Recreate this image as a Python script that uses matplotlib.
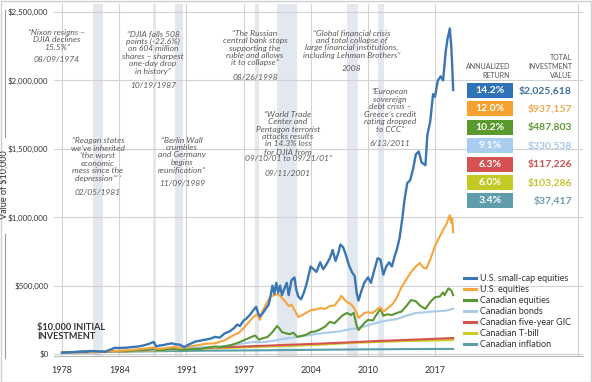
import matplotlib
matplotlib.use("Agg")
import matplotlib.pyplot as plt
from matplotlib.patches import Rectangle
from matplotlib.lines import Line2D

# ---------------- data ----------------
smallcap_years = [1978.0, 1979.0, 1980.0, 1980.5, 1981.0, 1981.5, 1982.0, 1982.5, 1983.0, 1983.5,
                  1984.0, 1984.5, 1985.0, 1985.5, 1986.0, 1986.5, 1987.0, 1987.6, 1987.85, 1988.2,
                  1988.6, 1989.0, 1989.5, 1989.8, 1990.3, 1990.8, 1991.2, 1991.6, 1992.0, 1992.5,
                  1993.0, 1993.5, 1994.0, 1994.5, 1995.0, 1995.5, 1996.0, 1996.3, 1996.6, 1997.0,
                  1997.3, 1997.7, 1998.0, 1998.3, 1998.5, 1998.7, 1999.0, 1999.3, 1999.6, 1999.8,
                  2000.0, 2000.2, 2000.4, 2000.6, 2000.8, 2001.0, 2001.2, 2001.5, 2001.7, 2002.0,
                  2002.3, 2002.5, 2002.7, 2003.0, 2003.3, 2003.6, 2004.0, 2004.3, 2004.6, 2005.0,
                  2005.3, 2005.6, 2006.0, 2006.3, 2006.6, 2006.9, 2007.1, 2007.4, 2007.7, 2008.0,
                  2008.3, 2008.6, 2008.8, 2009.0, 2009.3, 2009.6, 2010.0, 2010.3, 2010.6, 2011.0,
                  2011.3, 2011.6, 2011.9, 2012.2, 2012.5, 2012.8, 2013.0, 2013.3, 2013.6, 2013.8,
                  2014.1, 2014.4, 2014.7, 2015.0, 2015.3, 2015.6, 2016.0, 2016.2, 2016.5, 2016.8,
                  2017.0, 2017.3, 2017.6, 2017.85, 2018.1, 2018.3, 2018.55, 2018.7, 2018.8, 2018.9]
smallcap_vals = [10, 13, 17, 16, 22, 20, 18, 17, 30, 45,
                 44, 45, 48, 52, 55, 62, 72, 88, 55, 62,
                 65, 72, 78, 72, 68, 50, 68, 80, 92, 98,
                 105, 112, 125, 120, 150, 165, 190, 215, 205, 245,
                 260, 290, 320, 345, 300, 275, 300, 330, 360, 420,
                 500, 440, 520, 450, 500, 430, 470, 520, 430, 540,
                 560, 470, 420, 400, 450, 520, 640, 620, 600, 670,
                 620, 650, 700, 760, 680, 740, 800, 780, 720, 650,
                 600, 570, 450, 390, 460, 520, 560, 520, 600, 700,
                 690, 580, 640, 670, 640, 720, 760, 850, 1000, 1120,
                 1250, 1270, 1350, 1460, 1480, 1400, 1380, 1600, 1700, 1900,
                 1880, 2000, 2030, 2000, 2200, 2300, 2380, 2250, 2100, 1930]

us_years = [1978.0, 1980.0, 1981.0, 1982.0, 1982.6, 1983.0, 1984.0, 1985.0, 1986.0, 1987.0,
            1987.6, 1987.85, 1988.5, 1989.0, 1989.7, 1990.5, 1991.0, 1992.0, 1993.0, 1994.0,
            1995.0, 1996.0, 1996.5, 1997.0, 1997.5, 1998.0, 1998.4, 1998.7, 1999.0, 1999.5,
            1999.8, 2000.2, 2000.6, 2001.0, 2001.4, 2001.7, 2002.0, 2002.4, 2002.7, 2003.0,
            2003.5, 2004.0, 2004.5, 2005.0, 2005.5, 2006.0, 2006.5, 2007.0, 2007.2, 2007.5,
            2007.8, 2008.2, 2008.5, 2008.8, 2009.0, 2009.3, 2009.6, 2010.0, 2010.5, 2011.0,
            2011.3, 2011.6, 2012.0, 2012.5, 2013.0, 2013.3, 2013.6, 2014.0, 2014.5, 2015.0,
            2015.4, 2015.8, 2016.1, 2016.5, 2017.0, 2017.5, 2017.8, 2018.2, 2018.55, 2018.7,
            2018.8, 2018.9]
us_vals = [10, 13, 15, 14, 17, 22, 24, 28, 35, 42,
           48, 38, 40, 45, 52, 45, 52, 62, 75, 78,
           100, 140, 155, 190, 230, 270, 290, 250, 320, 385,
           420, 430, 440, 410, 380, 350, 360, 310, 270, 280,
           300, 320, 325, 335, 330, 350, 355, 400, 425, 400,
           380, 365, 340, 300, 265, 280, 300, 305, 300, 330,
           340, 310, 330, 360, 410, 460, 500, 545, 600, 640,
           665, 630, 625, 690, 790, 860, 900, 950, 1015, 960,
           990, 890]

caneq_years = [1978.0, 1979.0, 1980.0, 1980.8, 1981.5, 1982.5, 1983.0, 1983.5, 1984.5, 1985.5,
               1986.5, 1987.6, 1987.9, 1988.5, 1989.5, 1990.7, 1991.5, 1992.5, 1993.5, 1994.0,
               1994.5, 1995.0, 1995.5, 1996.0, 1996.5, 1997.0, 1997.5, 1997.8, 1998.2, 1998.6,
               1999.0, 1999.5, 2000.0, 2000.5, 2000.7, 2001.0, 2001.5, 2001.8, 2002.2, 2002.6,
               2002.9, 2003.5, 2004.0, 2004.5, 2005.0, 2005.5, 2006.0, 2006.5, 2007.0, 2007.4,
               2007.8, 2008.2, 2008.5, 2008.8, 2009.0, 2009.3, 2009.6, 2010.0, 2010.5, 2011.0,
               2011.3, 2011.6, 2012.0, 2012.5, 2013.0, 2013.5, 2014.0, 2014.5, 2015.0, 2015.5,
               2016.0, 2016.5, 2017.0, 2017.5, 2017.85, 2018.0, 2018.4, 2018.7, 2018.9]
caneq_vals = [10, 14, 18, 22, 19, 14, 19, 22, 20, 25,
              28, 36, 28, 30, 36, 30, 36, 38, 50, 55,
              52, 56, 62, 72, 85, 100, 115, 125, 135, 105,
              115, 125, 160, 205, 190, 160, 150, 145, 155, 125,
              130, 140, 160, 165, 180, 200, 235, 225, 260, 285,
              300, 285, 300, 210, 175, 200, 225, 250, 245, 300,
              330, 280, 290, 285, 300, 310, 350, 395, 385, 350,
              330, 380, 415, 420, 450, 430, 480, 465, 430]

bonds_years = [1978, 1980, 1981, 1982, 1983, 1985, 1987, 1989, 1990, 1991, 1993, 1994, 1995,
               1997, 1998, 1999, 2000, 2001, 2002, 2003, 2004, 2005, 2006, 2007, 2008, 2009,
               2010, 2011, 2012, 2013, 2014, 2015, 2016, 2017, 2018, 2018.9]
bonds_vals = [10, 10.5, 10, 14, 17, 22, 27, 30, 33, 40, 52, 48, 58,
              78, 88, 86, 95, 110, 118, 130, 140, 150, 158, 165, 180, 190,
              210, 230, 245, 255, 280, 300, 305, 312, 315, 330]

gic_years = [1978, 1981, 1984, 1987, 1990, 1993, 1996, 1999, 2002, 2005, 2008, 2011, 2014, 2017, 2018.9]
gic_vals = [10, 13, 19, 26, 34, 44, 52, 60, 68, 76, 85, 95, 103, 111, 117]

tbill_years = [1978, 1981, 1984, 1987, 1990, 1993, 1996, 1999, 2002, 2005, 2008, 2011, 2014, 2017, 2018.9]
tbill_vals = [10, 13, 18, 24, 31, 40, 46, 53, 60, 68, 80, 88, 94, 99, 103]

infl_years = [1978, 1981, 1984, 1987, 1990, 1993, 1996, 1999, 2002, 2005, 2008, 2011, 2014, 2018.9]
infl_vals = [10, 13.5, 17, 19.5, 22, 24.5, 25.5, 27, 29, 31, 33, 34.5, 36, 37.4]

series_names = ["U.S. small-cap equities", "U.S. equities", "Canadian equities", "Canadian bonds",
                "Canadian five-year GIC", "Canadian T-bill", "Canadian inflation"]
annual_returns = ["14.2%", "12.0%", "10.2%", "9.1%", "6.3%", "6.0%", "3.4%"]
total_values = ["$2,025,618", "$937,157", "$487,803", "$330,538", "$117,226", "$103,286", "$37,417"]

recessions = [(1981.25, 1982.3), (1987.5, 1987.8), (1989.8, 1990.65), (1998.2, 1998.6),
              (2000.5, 2002.6), (2007.8, 2008.95), (2011.0, 2011.7)]

x_ticks = [1978, 1984, 1991, 1997, 2004, 2010, 2017]
y_ticks = [0, 500000, 1000000, 1500000, 2000000, 2500000]
y_tick_labels = ["$0", "$500,000", "$1,000,000", "$1,500,000", "$2,000,000", "$2,500,000"]

# ---------------- style ----------------
line_colors = ["#3a76b3", "#f5a53c", "#5a9732", "#a9cbea", "#d6524f", "#c8cd2b", "#5c9eaa"]
box_colors = ["#2f72b8", "#f5a02f", "#5a9a2d", "#a9cdee", "#d65252", "#c3c925", "#5f9daa"]
value_colors = ["#3d6f9f", "#f0aa4c", "#5e9a38", "#a5c5e3", "#cf4f4f", "#c4c52a", "#6a9ea8"]

W, H = 592, 382
fig = plt.figure(figsize=(W / 100, H / 100), dpi=100)
plt.rcParams['font.family'] = ['Lato', 'DejaVu Sans']

def fx(x):
    return x / W

def fy(y):
    return 1 - y / H

ax_left, ax_right, ax_top, ax_bottom = 54, 583, 4, 356
ax = fig.add_axes([fx(ax_left), fy(ax_bottom), (ax_right - ax_left) / W, (ax_bottom - ax_top) / H])

ppy = (435 - 62) / 39.0
x0 = 1978 - (62 - ax_left) / ppy
x1 = 1978 + (ax_right - 62) / ppy
ax.set_xlim(x0, x1)
ppv = (354 - 12) / 2500000.0
y0 = -(ax_bottom - 354) / ppv
y1 = 2500000 + (12 - ax_top) / ppv
ax.set_ylim(y0, y1)

for a, b in recessions:
    ax.axvspan(a, b, color="#e3e7ee", lw=0, zorder=0)

for s in ["top", "right", "left"]:
    ax.spines[s].set_visible(False)
ax.spines["bottom"].set_color("#b8b8b8")
ax.spines["bottom"].set_linewidth(0.8)

ax.set_xticks(x_ticks)
ax.set_xticklabels([str(t) for t in x_ticks], fontsize=6.5, color="#333333")
ax.set_yticks(y_ticks)
ax.set_yticklabels(y_tick_labels, fontsize=5.7, color="#333333")
ax.tick_params(axis="x", length=0, pad=7)
ax.tick_params(axis="y", length=0, pad=4)
ax.grid(True, color="#d2d2d2", lw=0.8, zorder=0.5)
ax.axvline(1978 + (578 - 62) / ppy, color="#d2d2d2", lw=0.8, zorder=0.5)

data = [(smallcap_years, smallcap_vals), (us_years, us_vals), (caneq_years, caneq_vals),
        (bonds_years, bonds_vals), (gic_years, gic_vals), (tbill_years, tbill_vals),
        (infl_years, infl_vals)]
for i in range(6, -1, -1):
    yrs, vals = data[i]
    lw = 1.7 if i == 0 else 1.5
    ax.plot(yrs, [v * 1000 for v in vals], color=line_colors[i], lw=lw,
            zorder=3 + (6 - i) * 0.1, solid_joinstyle="round")
handles = [Line2D([0], [0], color=line_colors[i], lw=2.2) for i in range(7)]
leg = fig.legend(handles, series_names, loc="upper left",
                 bbox_to_anchor=(fx(464), fy(274)), frameon=False, fontsize=6.5,
                 handlelength=1.3, handletextpad=0.45, labelspacing=0.22, borderpad=0,
                 borderaxespad=0)
for t in leg.get_texts():
    t.set_color("#333333")

# y label with line
fig.text(fx(4.5), fy(185), "Value of $10,000", rotation=90, ha="center", va="center",
         fontsize=6.5, color="#333333")
fig.add_artist(Line2D([fx(4.5), fx(4.5)], [fy(10), fy(137)], color="#9a9a9a", lw=0.8))
fig.add_artist(Line2D([fx(4.5), fx(4.5)], [fy(234), fy(358)], color="#9a9a9a", lw=0.8))

# annotations
ann_color = "#5a5a5a"
annotations = [
    (57, 40, "\u201cNixon resigns \u2013\nDJIA declines\n15.5%\u201d", 60, "08/09/1974"),
    (153, 52.5, "\u201cDJIA falls 508\npoints (-22.6%)\non 604 million\nshares \u2013 sharpest\none-day drop\nin history\u201d", 85, "10/19/1987"),
    (98, 159.5, "\u201cReagan states\nwe\u2019ve inherited\n\u2018the worst\neconomic\nmess since the\ndepression\u2019\u201d \u2019", 193, "02/05/1981"),
    (182, 155, "\u201cBerlin Wall\ncrumbles\nand Germany\nbegins\nreunification\u201d", 183, "11/09/1989"),
    (255, 48, "\u201cThe Russian\ncentral bank stops\nsupporting the\nruble and allows\nit to collapse\u201d", 77, "08/26/1998"),
    (352, 44, "\u201cGlobal financial crisis\nand total collapse of\nlarge financial institutions,\nincluding Lehman Brothers\u201d", 68.5, "2008"),
    (288, 136.5, "\u201cWorld Trade\nCenter and\nPentagon terrorist\nattacks results\nin 14.3% loss\nfor DJIA from\n09/10/01 to 09/21/01\u201d", 174, "09/11/2001"),
    (390, 110.5, "\u201cEuropean\nsovereign\ndebt crisis \u2013\nGreece\u2019s credit\nrating dropped\nto CCC\u201d", 144, "6/13/2011"),
]
for x, yc, txt, yd, date in annotations:
    fig.text(fx(x), fy(yc), txt, ha="center", va="center", fontsize=6.1, style="italic",
             color=ann_color, linespacing=1.07)
    fig.text(fx(x), fy(yd), date, ha="center", va="center", fontsize=6.1, style="italic",
             color=ann_color)

fig.text(fx(37), fy(332), "$10,000 INITIAL\nINVESTMENT", ha="left", va="center", fontsize=6.6,
         fontweight="bold", color="#333333", linespacing=1.05)

# table
fig.text(fx(510), fy(71), "ANNUALIZED\nRETURN", ha="right", va="center", fontsize=5,
         color="#555555", linespacing=1.25)
fig.text(fx(572), fy(66.5), "TOTAL\nINVESTMENT\nVALUE", ha="right", va="center", fontsize=5,
         color="#555555", linespacing=1.25)
for i in range(7):
    yc = 90.5 + i * 18.4
    fig.add_artist(Rectangle((fx(467), fy(yc + 7.5)), (513 - 467) / W, 15 / H,
                             transform=fig.transFigure, facecolor=box_colors[i], edgecolor="none"))
    fig.text(fx(490), fy(yc), annual_returns[i], ha="center", va="center", fontsize=7.5,
             color="white", fontweight="bold")
    fig.text(fx(572), fy(yc), total_values[i], ha="right", va="center", fontsize=7.5,
             color=value_colors[i], fontweight="bold")

# figure border
fig.add_artist(Rectangle((0.5 / W, 0.5 / H), 1 - 1.5 / W, 1 - 1.5 / H, transform=fig.transFigure,
                         facecolor="none", edgecolor="#cfcfcf", lw=1))

fig.savefig("out.png", dpi=100)
